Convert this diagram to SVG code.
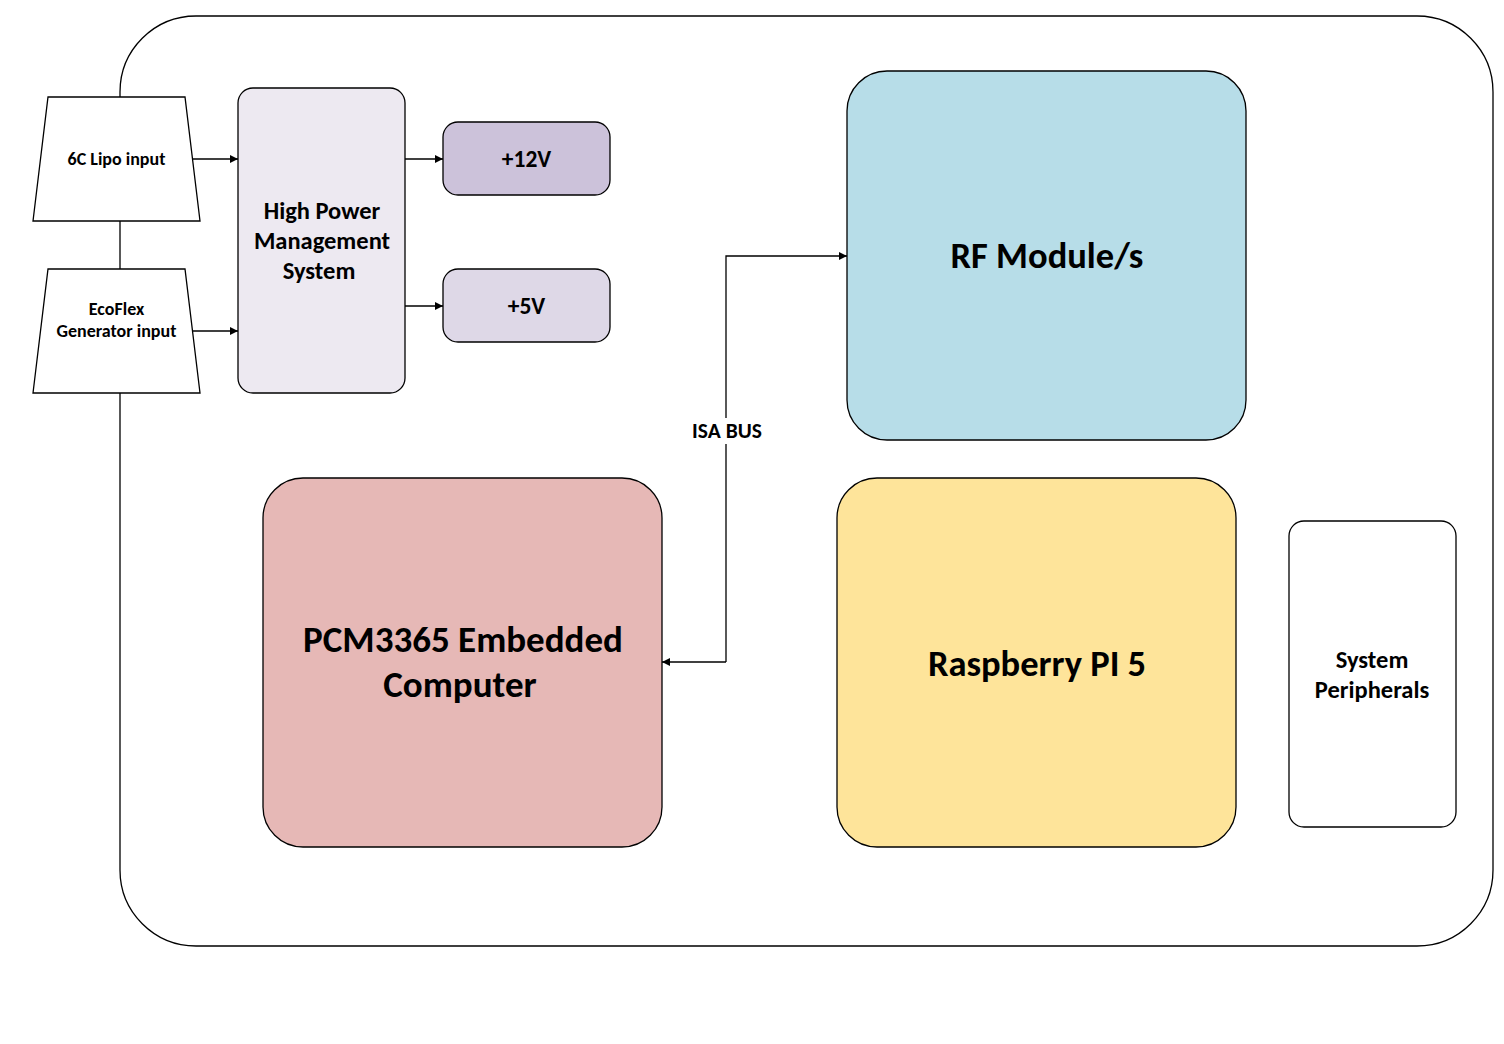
<svg xmlns="http://www.w3.org/2000/svg" width="1504" height="1044" viewBox="0 0 1504 1044">
<defs>
<style>
.s{stroke:#000;stroke-width:1.3;}
text{font-family:Carlito,Lato,"Liberation Sans",sans-serif;font-weight:700;fill:#000;text-anchor:middle;}
.ln{fill:none;stroke:#000;stroke-width:1.3;}
</style>
<marker id="ah" viewBox="0 0 10 10" refX="10" refY="5" markerWidth="8" markerHeight="8" markerUnits="userSpaceOnUse" orient="auto">
<path d="M0,0 L10,5 L0,10 z" fill="#000"/>
</marker>
</defs>
<rect width="1504" height="1044" fill="#fff"/>
<g id="board">
<rect x="120" y="16" width="1373" height="930" rx="76" ry="76" fill="#fff" class="s"/>
</g>
<g id="lipo">
<polygon points="48,97 185,97 200,221 33,221" fill="#fff" class="s"/>
<text x="116.5" y="165" font-size="18">6C Lipo input</text>
</g>
<g id="ecoflex">
<polygon points="48,269 185,269 200,393 33,393" fill="#fff" class="s"/>
<text x="116.5" y="315" font-size="18">EcoFlex</text>
<text x="116.5" y="337" font-size="18">Generator input</text>
</g>
<g id="hpms">
<rect x="238" y="88" width="167" height="305" rx="15" fill="#EDE9F1" class="s"/>
<text x="322" y="219" font-size="24.5">High Power</text>
<text x="322" y="249" font-size="24.5">Management</text>
<text x="319" y="279" font-size="24.5">System</text>
</g>
<g id="v12">
<rect x="443" y="122" width="167" height="73" rx="15" fill="#CCC2DA" class="s"/>
<text x="526.5" y="167" font-size="23.5">+12V</text>
</g>
<g id="v5">
<rect x="443" y="269" width="167" height="73" rx="15" fill="#DED8E7" class="s"/>
<text x="526.5" y="314" font-size="23.5">+5V</text>
</g>
<g id="rf">
<rect x="847" y="71" width="399" height="369" rx="40" fill="#B7DDE8" class="s"/>
<text x="1047" y="268" font-size="36.5">RF Module/s</text>
</g>
<g id="pcm">
<rect x="263" y="478" width="399" height="369" rx="40" fill="#E6B8B6" class="s"/>
<text x="463" y="652" font-size="37">PCM3365 Embedded</text>
<text x="460" y="697" font-size="37">Computer</text>
</g>
<g id="rpi">
<rect x="837" y="478" width="399" height="369" rx="40" fill="#FEE49A" class="s"/>
<text x="1037" y="676" font-size="36.5">Raspberry PI 5</text>
</g>
<g id="peripherals">
<rect x="1289" y="521" width="167" height="306" rx="15" fill="#fff" class="s"/>
<text x="1372" y="668" font-size="24.5">System</text>
<text x="1372" y="698" font-size="24.5">Peripherals</text>
</g>
<g id="connectors">
<line x1="192" y1="159" x2="238" y2="159" class="ln" marker-end="url(#ah)"/>
<line x1="192" y1="331" x2="238" y2="331" class="ln" marker-end="url(#ah)"/>
<line x1="405" y1="159" x2="443" y2="159" class="ln" marker-end="url(#ah)"/>
<line x1="405" y1="306" x2="443" y2="306" class="ln" marker-end="url(#ah)"/>
<polyline points="726,662 726,256 847,256" class="ln" marker-end="url(#ah)"/>
<line x1="726" y1="662" x2="662" y2="662" class="ln" marker-end="url(#ah)"/>
<rect x="688" y="418" width="78" height="26" fill="#fff"/>
<text x="727" y="438" font-size="21.5">ISA BUS</text>
</g>
</svg>
